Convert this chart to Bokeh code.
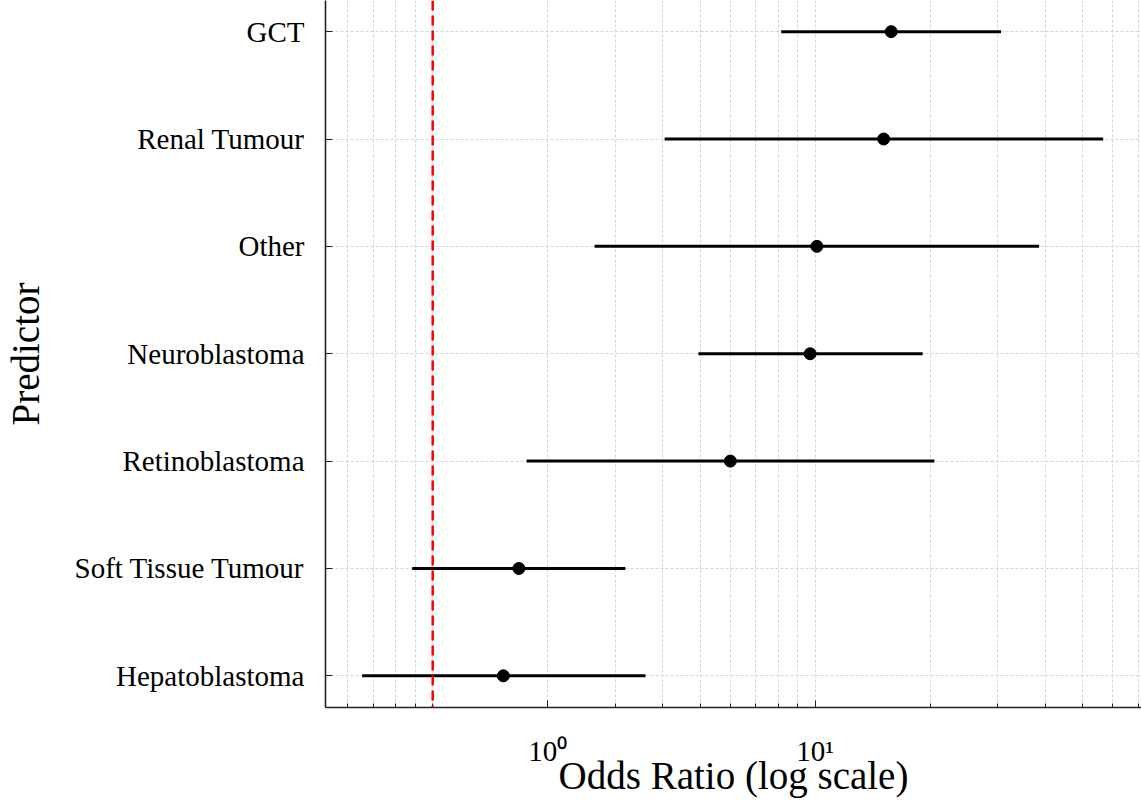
from bokeh.plotting import figure
from bokeh.models import FixedTicker, Range1d, Span, ColumnDataSource
from bokeh.embed import file_html
from bokeh.resources import INLINE

# Forest plot data: odds ratios with 95% confidence intervals
predictors = ["GCT", "Renal Tumour", "Other", "Neuroblastoma",
              "Retinoblastoma", "Soft Tissue Tumour", "Hepatoblastoma"]
odds_ratio = [15.8, 15.1, 10.1, 9.7, 6.0, 1.68, 1.53]
ci_lower = [8.15, 4.04, 2.65, 4.95, 1.76, 0.884, 0.654]
ci_upper = [30.6, 56.6, 38.5, 19.1, 20.5, 3.19, 3.60]
reference_or = 1.0

# x-axis tick labels and minor tick positions
x_major_ticks = [2, 10]
x_major_labels = {2: "10⁰", 10: "10¹"}
x_minor_ticks = [0.6, 0.7, 0.8, 0.9, 1, 3, 4, 5, 6, 7, 8, 9,
                 20, 30, 40, 50, 60, 70]

x_title = "Odds Ratio (log scale)"
y_title = "Predictor"

n = len(predictors)
ypos = [n - 1 - i for i in range(n)]

src = ColumnDataSource(dict(y=ypos, odds=odds_ratio, lo=ci_lower, hi=ci_upper))

SERIF = "Liberation Serif"

p = figure(width=1141, height=800, x_axis_type="log",
           x_range=Range1d(0.5245, 71.3), y_range=Range1d(-0.295, n - 1 + 0.29),
           output_backend="svg", toolbar_location=None,
           min_border_left=325, min_border_right=0, min_border_top=0,
           min_border_bottom=93)
p.outline_line_color = None
p.background_fill_color = "white"
p.border_fill_color = "white"

# confidence intervals and point estimates
p.segment(x0="lo", x1="hi", y0="y", y1="y", source=src,
          line_color="black", line_width=3)
p.scatter(x="odds", y="y", source=src, size=12, fill_color="black",
          line_color="black")

# reference line at OR = 1
p.add_layout(Span(location=reference_or, dimension="height", line_color="#ff0000",
                  line_width=2.5, line_dash="10 5"))

# x axis
xa = p.xaxis[0]
xa.ticker = FixedTicker(ticks=x_major_ticks, minor_ticks=x_minor_ticks)
xa.major_label_overrides = x_major_labels
xa.axis_label = x_title

# y axis
ya = p.yaxis[0]
ya.ticker = FixedTicker(ticks=ypos, minor_ticks=[])
ya.major_label_overrides = {y: name for y, name in zip(ypos, predictors)}
ya.axis_label = y_title

for ax in (xa, ya):
    ax.axis_line_color = "#222222"
    ax.axis_line_width = 1.6
    ax.major_tick_line_color = "#222222"
    ax.minor_tick_line_color = "#222222"
    ax.major_tick_in = 7
    ax.major_tick_out = 0
    ax.minor_tick_in = 4
    ax.minor_tick_out = 0
    ax.major_label_text_font = SERIF
    ax.major_label_text_font_size = "29px"
    ax.major_label_text_color = "black"
    ax.axis_label_text_font = SERIF
    ax.axis_label_text_font_size = "39px"
    ax.axis_label_text_font_style = "normal"
    ax.axis_label_text_color = "black"
    ax.axis_label_text_line_height = 0.9
    ax.major_label_text_line_height = 1.0

ya.major_label_standoff = 21
ya.axis_label_standoff = 25
xa.major_label_standoff = 27
xa.axis_label_standoff = -16

# dashed light grid
for g in (p.xgrid[0], p.ygrid[0]):
    g.grid_line_color = "#d4d4d4"
    g.grid_line_dash = "3 2"
    g.grid_line_width = 1
p.xgrid[0].minor_grid_line_color = "#d4d4d4"
p.xgrid[0].minor_grid_line_dash = "3 2"
p.xgrid[0].minor_grid_line_width = 1

open("out.html", "w").write(file_html(p, INLINE))
